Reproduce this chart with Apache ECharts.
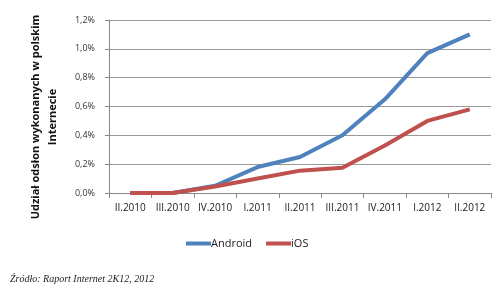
<!DOCTYPE html>
<html><head><meta charset="utf-8">
<script src="https://cdn.jsdelivr.net/npm/echarts@6/dist/echarts.min.js"></script>
<style>html,body{margin:0;padding:0;background:#fff}#c{width:500px;height:291px}</style>
</head><body><div id="c"></div>
<script>
const categories = ['II.2010','III.2010','IV.2010','I.2011','II.2011','III.2011','IV.2011','I.2012','II.2012'];
const android = [0, 0, 0.05, 0.18, 0.25, 0.40, 0.65, 0.97, 1.10];
const ios = [0, 0, 0.045, 0.10, 0.155, 0.175, 0.33, 0.50, 0.58];
const yTitle = ['Udział odsłon wykonanych w polskim', 'Internecie'];
const source = 'Źródło: Raport Internet 2K12, 2012';

const chart = echarts.init(document.getElementById('c'));
const font = 'Open Sans';
chart.setOption({
  animation: false,
  grid: {left: 109, right: 9, top: 20, bottom: 98},
  legend: {
    data: ['Android', 'iOS'], top: 233, left: 181,
    itemWidth: 25, itemHeight: 4, itemGap: 14,
    icon: 'rect',
    textStyle: {fontFamily: font, fontSize: 11, color: '#222', padding: [0,0,0,-5]}
  },
  xAxis: {
    type: 'category', data: categories, boundaryGap: true,
    axisLine: {lineStyle: {color: '#888'}},
    axisTick: {show: true, length: 5, lineStyle: {color: '#888'}},
    axisLabel: {fontFamily: font, fontSize: 10, color: '#1a1a1a', margin: 10, interval: 0}
  },
  yAxis: {
    type: 'value', min: 0, max: 1.2, interval: 0.2,
    axisLine: {show: true, lineStyle: {color: '#888'}},
    axisTick: {show: true, length: 4, lineStyle: {color: '#888'}},
    splitLine: {lineStyle: {color: '#999'}},
    axisLabel: {fontFamily: font, fontSize: 9, color: '#333', margin: 14,
      formatter: v => v.toFixed(1).replace('.', ',') + '%'}
  },
  graphic: [
    {type: 'text', x: 44, y: 117, rotation: Math.PI/2,
      style: {text: yTitle.join('\n'), font: 'bold 11px "Open Sans"', fill: '#111',
        align: 'center', verticalAlign: 'middle', lineHeight: 17}},
    {type: 'text', left: 10, top: 274,
      style: {text: source, font: 'italic 10px "Liberation Serif"', fill: '#222'}}
  ],
  series: [
    {name: 'Android', type: 'line', data: android, symbol: 'none',
      lineStyle: {width: 4, color: '#4F81BD'}, itemStyle: {color: '#4F81BD'}},
    {name: 'iOS', type: 'line', data: ios, symbol: 'none',
      lineStyle: {width: 4, color: '#C0504D'}, itemStyle: {color: '#C0504D'}}
  ]
});
</script></body></html>
